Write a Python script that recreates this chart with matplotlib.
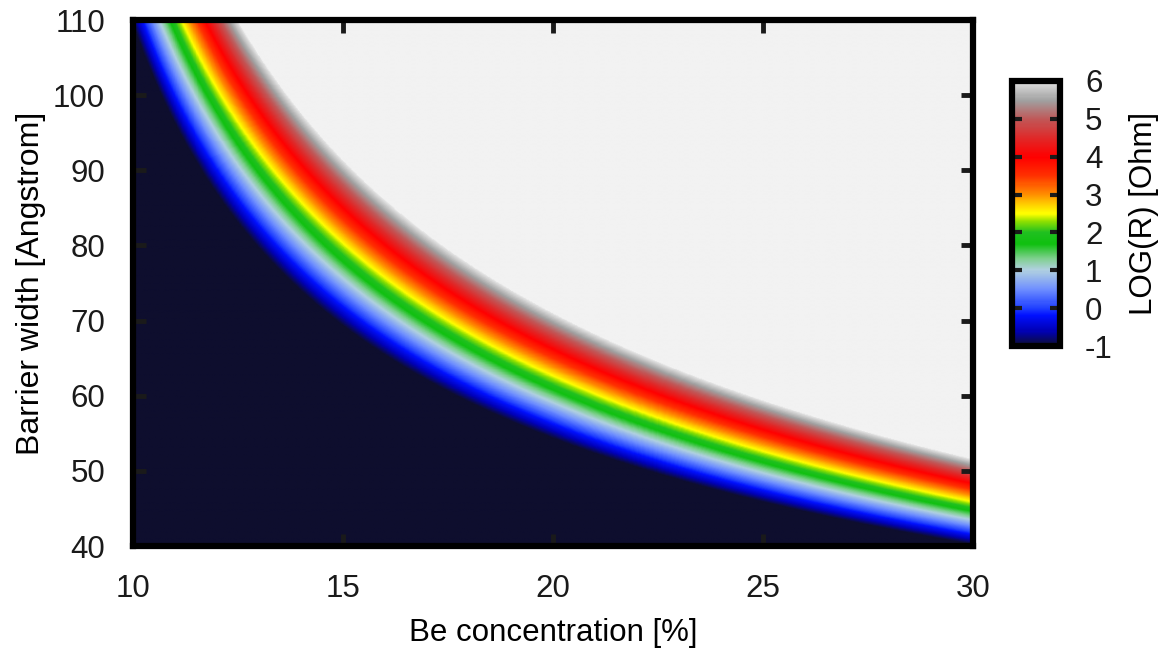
import numpy as np
import matplotlib
matplotlib.use('Agg')
import matplotlib.pyplot as plt
from matplotlib.colors import LinearSegmentedColormap

plt.rcParams['font.family'] = ['Liberation Sans', 'DejaVu Sans']
plt.rcParams['font.size'] = 22.5
plt.rcParams['axes.unicode_minus'] = False
plt.rcParams['text.color'] = '#1a1a1a'
plt.rcParams['xtick.color'] = '#1a1a1a'
plt.rcParams['ytick.color'] = '#1a1a1a'

# contour positions (Be concentration %, barrier width A)
conc_m1 = [10.05, 11.2, 15, 20, 25, 30]      # LOG(R) = -1 edge
width_m1 = [110, 91, 71, 54, 46, 40]
conc_6 = [12.3, 15, 20, 25, 30]              # LOG(R) = 6 edge
width_6 = [110, 92, 72, 59.5, 51]

# palette stops (LOG(R) value, colour)
pal_vals = [-1, -0.6, -0.2, 0, 0.5, 1.0, 1.3, 1.7, 2.0, 2.3, 2.5, 2.8, 3.0, 3.5, 4.0, 4.5, 5.0, 5.5, 6.0]
pal_cols = ['#0e0e30', '#0000b8', '#0010ff', '#2040ff', '#7090ff', '#b0d0e0', '#80d090',
            '#10c010', '#20c020', '#90e000', '#ffff00', '#ffc000', '#ff9000', '#ff3000',
            '#ff0000', '#e02828', '#c05858', '#a0a0a0', '#e4e4e4']
zmin, zmax = -1, 6

x0 = 6.5
def edge(conc, width, x):
    # smooth fit of width*sqrt(c - x0) through the read points
    p = np.array(width) * np.sqrt(np.array(conc) - x0)
    k = np.polyfit(conc, p, 1)
    return np.polyval(k, x)

xs = np.linspace(10, 30, 800)
ws = np.linspace(40, 110, 600)
X, W = np.meshgrid(xs, ws)
p_lo = edge(conc_m1, width_m1, X)
p_hi = edge(conc_6, width_6, X)
Z = zmin + (zmax - zmin) * (W * np.sqrt(X - x0) - p_lo) / (p_hi - p_lo)

pos = [(v - zmin) / (zmax - zmin) for v in pal_vals]
cmap = LinearSegmentedColormap.from_list('gp', list(zip(pos, pal_cols)))
cmap.set_under('#0e0e2e')
cmap.set_over('#f2f2f2')

fig = plt.figure(figsize=(11.65, 6.52), dpi=100)
ax = fig.add_axes([133/1165, 1 - 546/652, 840/1165, 526/652])
im = ax.imshow(Z, origin='lower', extent=[10, 30, 40, 110], aspect='auto',
               cmap=cmap, vmin=zmin, vmax=zmax, interpolation='bilinear')
ax.set_xlim(10, 30)
ax.set_ylim(40, 110)
ax.set_xticks([10, 15, 20, 25, 30])
ax.set_yticks([40, 50, 60, 70, 80, 90, 100, 110])
ax.tick_params(direction='in', top=True, right=True, length=9, width=3.5, pad=20)
ax.tick_params(axis='y', pad=20)
for s in ax.spines.values():
    s.set_linewidth(4.5)
ax.set_xlabel('Be concentration [%]', labelpad=10)
ax.set_ylabel('Barrier width [Angstrom]', labelpad=5, fontsize=23)

cax = fig.add_axes([1012/1165, 1 - 346/652, 48/1165, 265/652])
cb = fig.colorbar(im, cax=cax, ticks=range(-1, 7))
cb.outline.set_linewidth(4.5)
cax.tick_params(direction='in', left=True, right=True, length=7, width=3, pad=18)
cb.set_label('LOG(R) [Ohm]', labelpad=12)

fig.savefig('out.png', dpi=100)
